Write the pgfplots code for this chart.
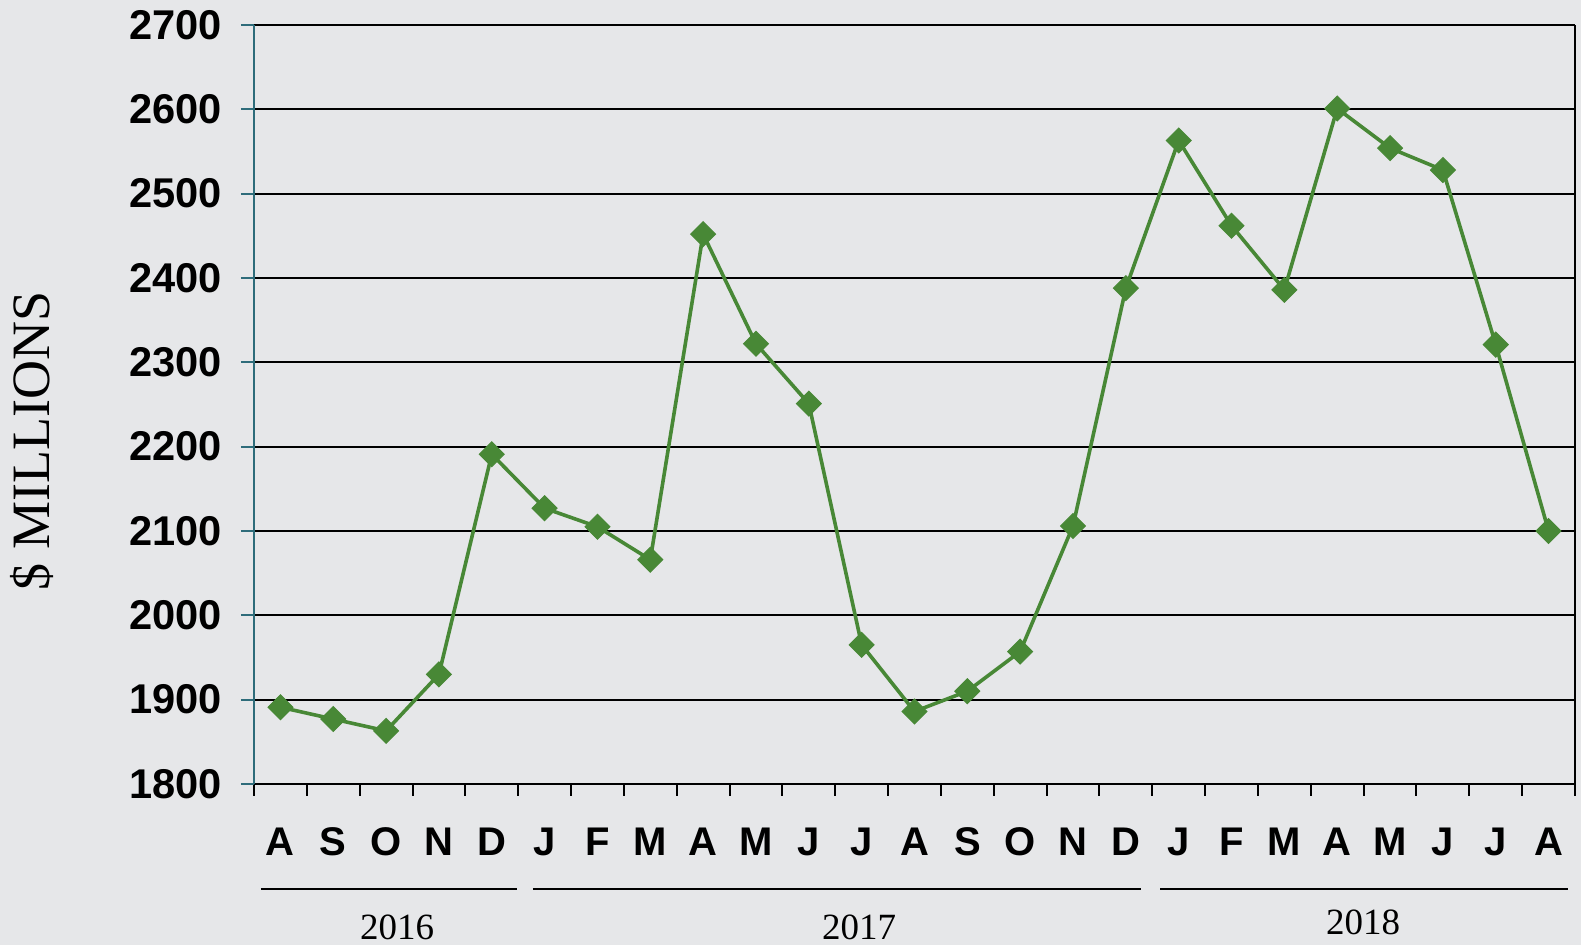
\documentclass[border=0pt]{standalone}
\usepackage{fontspec}
\setmainfont{Liberation Serif}
\newfontfamily\arial{Liberation Sans}
\usepackage{pgfplots}
\pgfplotsset{compat=1.18}
\definecolor{bg}{RGB}{230,231,233}
\definecolor{lgreen}{RGB}{72,136,54}
\definecolor{teal}{RGB}{46,108,122}
\begin{document}
\begin{tikzpicture}
\fill[bg] (-127pt,-80.5pt) rectangle (663.5pt,392pt);
\begin{axis}[
  name=ax, at={(0,0)}, anchor=south west,
  scale only axis, width=660.5pt, height=379.5pt,
  xmin=0.5, xmax=25.5, ymin=1800, ymax=2700,
  ytick={1800,1900,...,2700},
  xtick={1,...,25},
  xticklabels={A,S,O,N,D,J,F,M,A,M,J,J,A,S,O,N,D,J,F,M,A,M,J,J,A},
  minor xtick={0.5,1.5,...,25.5},
  major x tick style={draw=none},
  minor x tick style={black, line width=1pt},
  minor tick length=6pt,
  y tick style={teal, line width=1pt},
  major tick length=6.5pt,
  tick align=outside,
  ymajorgrids, major grid style={black, line width=0.9pt},
  axis line style={black, line width=1pt},
  separate axis lines,
  every outer x axis line/.append style={black, line width=1.4pt},
  y axis line style={teal, line width=1pt},
  every outer y axis line/.append style={teal},
  axis y line*=left,
  axis x line*=bottom,
  /pgf/number format/assume math mode=true,
  /pgf/number format/1000 sep={},
  yticklabel style={font=\arial\bfseries\fontsize{20.8}{24}\selectfont, xshift=-6pt},
  xticklabel style={font=\arial\bfseries\fontsize{20}{24}\selectfont, yshift=-12pt},
  ylabel={\$ MILLIONS},
  ylabel style={font=\fontsize{27}{30}\selectfont, at={(axis description cs:-0.168,0.452)}, anchor=center, rotate=0},
  clip=false,
]
\addplot[lgreen, line width=1.8pt, mark=square*, mark size=4.4pt, mark options={rotate=45, fill=lgreen, draw=lgreen, line width=0.5pt}]
coordinates {
(1,1891)(2,1877)(3,1863)(4,1930)(5,2191)(6,2127)(7,2105)(8,2066)
(9,2452)(10,2322)(11,2251)(12,1965)(13,1886)(14,1910)(15,1957)(16,2106)
(17,2388)(18,2563)(19,2462)(20,2386)(21,2601)(22,2554)(23,2528)(24,2321)(25,2100)
};
\draw[black, line width=0.9pt] (axis cs:25.5,1800) -- (axis cs:25.5,2700);
\draw[black, line width=1.3pt] (axis cs:0.63,1675.5) -- (axis cs:5.48,1675.5);
\draw[black, line width=1.3pt] (axis cs:5.78,1675.5) -- (axis cs:17.29,1675.5);
\draw[black, line width=1.3pt] (axis cs:17.65,1675.5) -- (axis cs:25.37,1675.5);
\node[anchor=base, font=\fontsize{18.5}{21}\selectfont] at (axis cs:3.21,1616) {2016};
\node[anchor=base, font=\fontsize{18.5}{21}\selectfont] at (axis cs:11.95,1616) {2017};
\node[anchor=base, font=\fontsize{18.5}{21}\selectfont] at (axis cs:21.49,1622) {2018};
\end{axis}
\pgfresetboundingbox
\path[use as bounding box] (-127pt,-80.5pt) rectangle (663.5pt,392pt);
\end{tikzpicture}
\end{document}
